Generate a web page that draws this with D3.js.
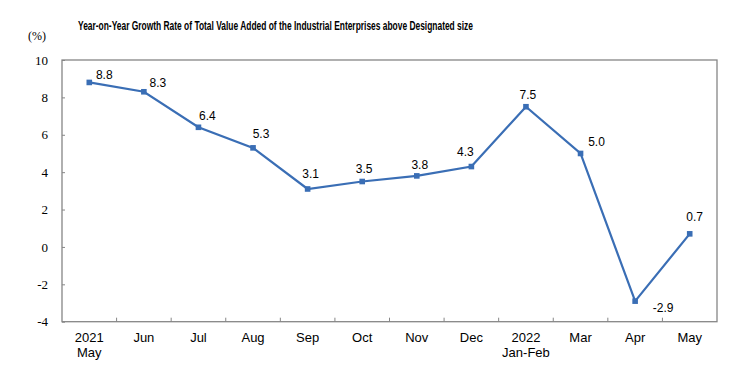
<!DOCTYPE html>
<html>
<head>
<meta charset="utf-8">
<script src="https://cdn.jsdelivr.net/npm/d3@7"></script>
<style>
  body { margin: 0; background: #fff; }
  svg { display: block; }
</style>
</head>
<body>
<svg id="chart" width="752" height="389"></svg>
<script>
// data
var categories = ["May", "Jun", "Jul", "Aug", "Sep", "Oct", "Nov", "Dec", "Jan-Feb", "Mar", "Apr", "May"];
var yearLabels = ["2021", "", "", "", "", "", "", "", "2022", "", "", ""];
var growth = [8.8, 8.3, 6.4, 5.3, 3.1, 3.5, 3.8, 4.3, 7.5, 5.0, -2.9, 0.7];
var yTicks = [-4, -2, 0, 2, 4, 6, 8, 10];

// where each value label sits relative to its point (styling only)
var labelNudge = [[15, -3], [14, -5], [9, -7], [8, -10], [3, -11], [2, -9],
    [3, -7], [-6, -11], [2, -8], [16, -7], [28, 11], [5, -13]];

var svg = d3.select("#chart");
var plotLeft = 62, plotRight = 717, plotTop = 60, plotBottom = 321.7;
var axisColor = "#868686", lineColor = "#3a6eb5";

var x = d3.scaleBand().domain(d3.range(categories.length)).range([plotLeft, plotRight]);
var y = d3.scaleLinear().domain([-4, 10]).range([plotBottom, plotTop]);

// title
svg.append("text")
    .attr("x", 78).attr("y", 29.5)
    .attr("font-family", "'Liberation Sans Narrow', 'Arial Narrow', 'Liberation Sans', sans-serif")
    .attr("font-weight", "bold")
    .attr("font-size", "13.5px")
    .attr("textLength", 395)
    .attr("lengthAdjust", "spacingAndGlyphs")
    .attr("fill", "#000")
    .text("Year-on-Year Growth Rate of Total Value Added of the Industrial Enterprises above Designated size");

svg.append("text")
    .attr("x", 28).attr("y", 40)
    .attr("font-family", "'Liberation Serif', 'Times New Roman', serif")
    .attr("font-size", "12px")
    .text("(%)");

// plot frame
svg.append("rect")
    .attr("x", plotLeft).attr("y", plotTop)
    .attr("width", plotRight - plotLeft).attr("height", plotBottom - plotTop)
    .attr("fill", "none").attr("stroke", axisColor).attr("stroke-width", 1.3);

// y axis
var yAxis = d3.axisLeft(y).tickValues(yTicks).tickSize(-3).tickPadding(14)
    .tickFormat(function (d) { return String(d); });
var gy = svg.append("g").attr("transform", "translate(" + plotLeft + ",0)").call(yAxis);
gy.select(".domain").remove();
gy.selectAll(".tick line").attr("stroke", axisColor);
gy.selectAll(".tick text")
    .attr("font-family", "'Liberation Serif', 'Times New Roman', serif")
    .attr("font-size", "13px")
    .attr("fill", "#000");

// x axis ticks at category boundaries
var xb = d3.range(1, categories.length).map(function (i) { return x(i); });
svg.append("g").selectAll("line").data(xb).enter().append("line")
    .attr("x1", function (d) { return d; }).attr("x2", function (d) { return d; })
    .attr("y1", plotBottom).attr("y2", plotBottom - 4)
    .attr("stroke", axisColor).attr("stroke-width", 1);

var xl = svg.append("g")
    .attr("font-family", "'Liberation Sans', Arial, sans-serif")
    .attr("font-size", "13px")
    .attr("text-anchor", "middle")
    .attr("fill", "#000");
categories.forEach(function (c, i) {
    var cx = x(i) + x.bandwidth() / 2;
    if (yearLabels[i]) {
        xl.append("text").attr("x", cx).attr("y", 342).text(yearLabels[i]);
        xl.append("text").attr("x", cx).attr("y", 357).text(c);
    } else {
        xl.append("text").attr("x", cx).attr("y", 342).text(c);
    }
});

// line
var cxOf = function (d, i) { return x(i) + x.bandwidth() / 2; };
var line = d3.line().x(function (d, i) { return cxOf(d, i); }).y(function (d) { return y(d); });
svg.append("path").datum(growth)
    .attr("d", line)
    .attr("fill", "none")
    .attr("stroke", lineColor)
    .attr("stroke-width", 2.2);

svg.append("g").selectAll("rect").data(growth).enter().append("rect")
    .attr("x", function (d, i) { return cxOf(d, i) - 2.8; })
    .attr("y", function (d) { return y(d) - 2.8; })
    .attr("width", 5.6).attr("height", 5.6)
    .attr("fill", lineColor);

// value labels
svg.append("g").selectAll("text").data(growth).enter().append("text")
    .attr("x", function (d, i) { return cxOf(d, i) + labelNudge[i][0]; })
    .attr("y", function (d, i) { return y(d) + labelNudge[i][1]; })
    .attr("text-anchor", "middle")
    .attr("font-family", "'Liberation Sans', Arial, sans-serif")
    .attr("font-size", "12px")
    .attr("fill", "#000")
    .text(function (d) { return d.toFixed(1); });
</script>
</body>
</html>
